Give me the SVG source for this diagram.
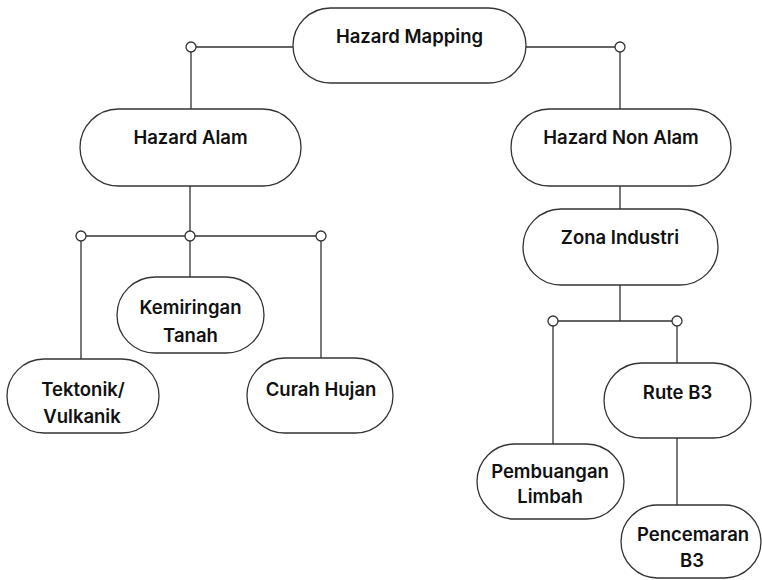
<svg xmlns="http://www.w3.org/2000/svg" width="762" height="580" viewBox="0 0 762 580">
<style>
.n{fill:#fff;stroke:#333;stroke-width:1.3}
.t{font-family:Inter,"Noto Sans","Liberation Sans",sans-serif;font-weight:600;font-size:18.5px;fill:#111;text-anchor:middle}
.c{stroke:#333;stroke-width:1.3;fill:none}
.d{fill:#fff;stroke:#333;stroke-width:1.3}
</style>
<rect width="762" height="580" fill="#fff"/>
<g id="connectors">
<path class="c" d="M293 47H191V109M526 47H620V109"/>
<path class="c" d="M190 186V236M81 236H321M81 236V359M190 236V277M321 236V358"/>
<path class="c" d="M620 186V209M620 285V321M553 321H677M553 321V444M677 321V363M677 438V505"/>
<circle class="d" cx="191" cy="47" r="5"/>
<circle class="d" cx="620" cy="47" r="5"/>
<circle class="d" cx="81" cy="236" r="5"/>
<circle class="d" cx="190" cy="236" r="5"/>
<circle class="d" cx="321" cy="236" r="5"/>
<circle class="d" cx="553" cy="321" r="5"/>
<circle class="d" cx="677" cy="321" r="5"/>
</g>
<g id="hazard-mapping"><rect class="n" x="293" y="8" width="233" height="75" rx="37.5"/><text class="t" x="409.5" y="43">Hazard Mapping</text></g>
<g id="hazard-alam"><rect class="n" x="80" y="109" width="221" height="77" rx="38.5"/><text class="t" x="190.5" y="144">Hazard Alam</text></g>
<g id="hazard-non-alam"><rect class="n" x="511" y="109" width="220" height="77" rx="38.5"/><text class="t" x="621" y="144">Hazard Non Alam</text></g>
<g id="zona-industri"><rect class="n" x="523" y="209" width="195" height="76" rx="38"/><text class="t" x="620" y="244">Zona Industri</text></g>
<g id="kemiringan-tanah"><rect class="n" x="117" y="277" width="147" height="76" rx="38"/><text class="t" x="190.5" y="314">Kemiringan</text><text class="t" x="190.5" y="341.5">Tanah</text></g>
<g id="tektonik-vulkanik"><rect class="n" x="7" y="359" width="152" height="74" rx="37"/><text class="t" x="83" y="396">Tektonik/</text><text class="t" x="82" y="423">Vulkanik</text></g>
<g id="curah-hujan"><rect class="n" x="247" y="358" width="146" height="75" rx="37.5"/><text class="t" x="321" y="396">Curah Hujan</text></g>
<g id="rute-b3"><rect class="n" x="604" y="363" width="147" height="75" rx="37.5"/><text class="t" x="677.5" y="399">Rute B3</text></g>
<g id="pembuangan-limbah"><rect class="n" x="477" y="444" width="147" height="75" rx="37.5"/><text class="t" x="550" y="477.5">Pembuangan</text><text class="t" x="550" y="503">Limbah</text></g>
<g id="pencemaran-b3"><rect class="n" x="621" y="505" width="140" height="73" rx="36.5"/><text class="t" x="693" y="540.5">Pencemaran</text><text class="t" x="692" y="566.5">B3</text></g>
</svg>
